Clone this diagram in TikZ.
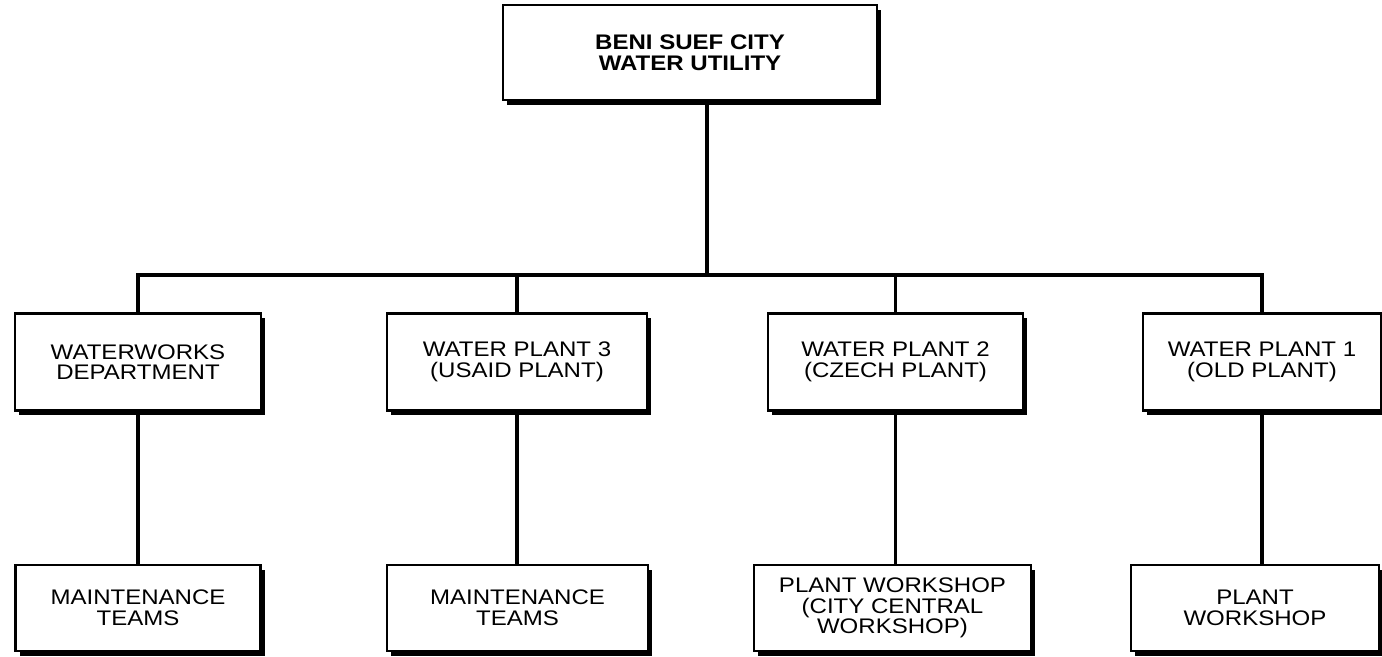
\documentclass[tikz,border=0pt]{standalone}
\usepackage{fontspec}
\setmainfont{Liberation Sans}[FakeStretch=1.14]
\usetikzlibrary{positioning,shadows}

\begin{document}
\begin{tikzpicture}[
  unit/.style={draw=black, line width=1.2pt, fill=white, rectangle, align=center,
    font=\fontsize{12}{11.8}\selectfont, inner sep=2pt,
    drop shadow={shadow xshift=2.4pt, shadow yshift=-2.6pt, fill=black, opacity=1}},
  head/.style={unit, minimum width=7.48cm, minimum height=1.9cm,
    font=\fontsize{12}{11.8}\selectfont\bfseries},
  plant/.style={unit, minimum height=1.94cm},
  shop/.style={unit, minimum height=1.72cm},
  link/.style={line width=2pt},
]
\useasboundingbox (0,0) rectangle (27.64,-13.12);

%==================== TOP: utility ====================
\node[head] (top) at (13.8,-1.05) {BENI SUEF CITY\\WATER UTILITY};

%==================== LEVEL 2: departments and plants ====================
\node[plant, minimum width=4.92cm] (dept)   at (2.76,-7.24)  {WATERWORKS\\DEPARTMENT};
\node[plant, minimum width=5.2cm]  (plantc) at (10.34,-7.24) {WATER PLANT 3\\(USAID PLANT)};
\node[plant, minimum width=5.1cm]  (plantb) at (17.91,-7.24) {WATER PLANT 2\\(CZECH PLANT)};
\node[plant, minimum width=4.76cm] (planta) at (25.24,-7.24) {WATER PLANT 1\\(OLD PLANT)};

%==================== LEVEL 3: workshops and teams ====================
\node[shop, minimum width=4.9cm]  (teamd)  at (2.76,-12.16)  {MAINTENANCE\\TEAMS};
\node[shop, minimum width=5.22cm] (teamc)  at (10.35,-12.16) {MAINTENANCE\\TEAMS};
\node[shop, minimum width=5.54cm] (shopb)  at (17.85,-12.16) {PLANT WORKSHOP\\(CITY CENTRAL\\WORKSHOP)};
\node[shop, minimum width=4.96cm] (shopa)  at (25.1,-12.16)  {PLANT\\WORKSHOP};

%==================== LINKS ====================
\coordinate (bus) at (14.14,-5.5);
\draw[link] (top.south -| bus) -- (bus);
\draw[link] (dept.north) -- (dept.north |- bus) -- (planta.north |- bus) -- (planta.north);
\draw[link] (plantc.north) -- (plantc.north |- bus);
\draw[link] (plantb.north) -- (plantb.north |- bus);

% each unit down to its own workshop
\foreach \up/\dn in {dept/teamd, plantc/teamc, plantb/shopb, planta/shopa}
  \draw[link] (\up.south) -- (\up.south |- \dn.north);

\end{tikzpicture}
\end{document}
